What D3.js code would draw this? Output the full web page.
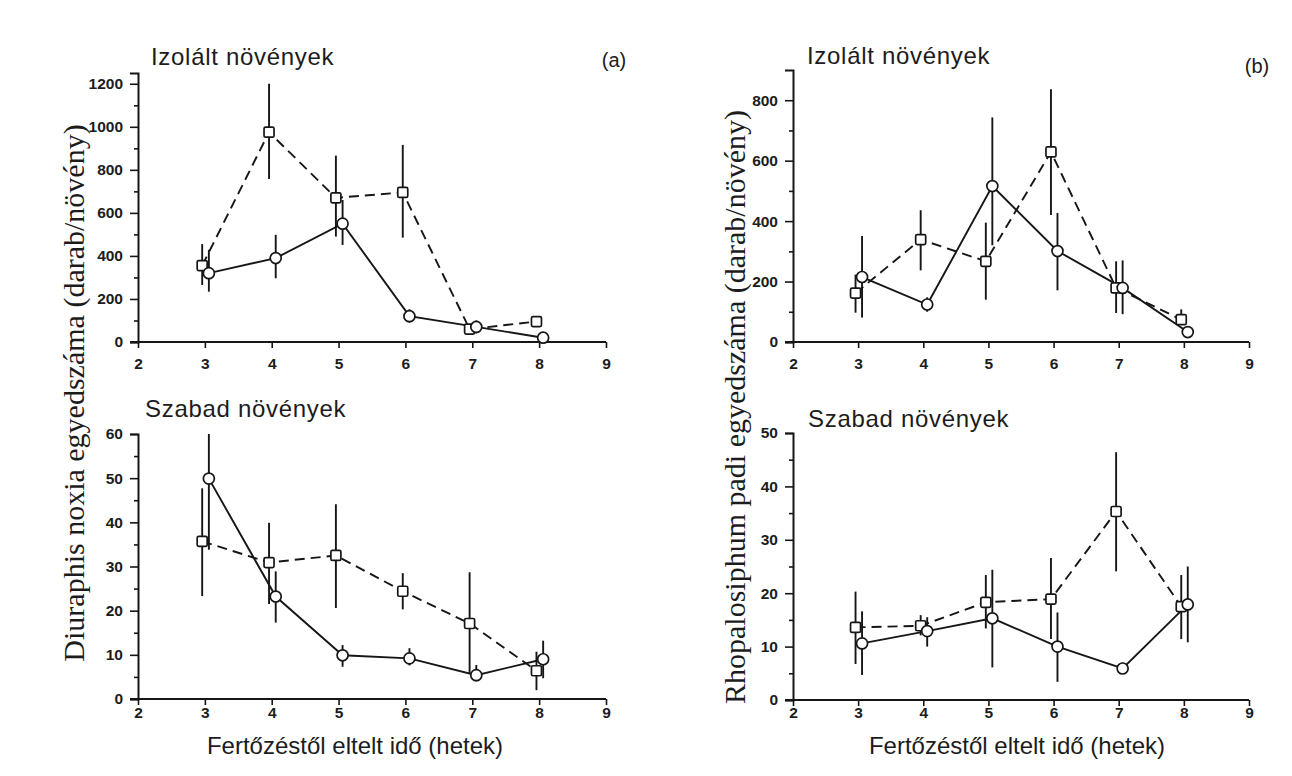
<!DOCTYPE html>
<html>
<head>
<meta charset="utf-8">
<script src="https://cdn.jsdelivr.net/npm/d3@7/dist/d3.min.js"></script>
<style>
  html, body { margin: 0; padding: 0; background: #fff; }
  svg { display: block; }
  .tick-label { font-family: "Liberation Sans", Arial, sans-serif; font-size: 15.5px; font-weight: bold; fill: #1c1c1c; }
  .title { font-family: "Liberation Sans", Arial, sans-serif; font-size: 24px; fill: #1c1c1c; }
  .ptitle { letter-spacing: 0.7px; }
  .ylab { font-family: "Liberation Serif", "Times New Roman", serif; font-size: 30px; fill: #1c1c1c; }
</style>
</head>
<body>
<svg id="chart" width="1292" height="776"></svg>
<script>
// Sampling weeks after infestation
const weeks = [3, 4, 5, 6, 7, 8];
const xTicks = [2, 3, 4, 5, 6, 7, 8, 9];

// Diuraphis noxia, isolated plants (dashed = squares, solid = circles)
const dnIsoDashed   = [355, 975, 670, 695, 60, 95];
const dnIsoDashedLo = [265, 758, 490, 485, 60, 95];
const dnIsoDashedHi = [455, 1200, 866, 916, 60, 95];
const dnIsoSolid    = [320, 390, 550, 120, 70, 20];
const dnIsoSolidLo  = [234, 296, 451, 90, 40, 20];
const dnIsoSolidHi  = [428, 498, 660, 152, 100, 20];

// Diuraphis noxia, free plants
const dnFreeDashed   = [35.7, 30.9, 32.5, 24.4, 17.1, 6.4];
const dnFreeDashedLo = [23.3, 21.5, 20.6, 20.3, 5.8, 2.0];
const dnFreeDashedHi = [47.7, 39.9, 44.1, 28.5, 28.7, 10.7];
const dnFreeSolid    = [49.9, 23.2, 9.9, 9.2, 5.4, 9.0];
const dnFreeSolidLo  = [33.8, 17.3, 7.3, 7.6, 4.0, 4.7];
const dnFreeSolidHi  = [60.0, 28.9, 12.2, 11.5, 7.7, 13.2];

// Rhopalosiphum padi, isolated plants
const rpIsoDashed   = [162, 339, 267, 629, 179, 74];
const rpIsoDashedLo = [97, 237, 140, 420, 96, 62];
const rpIsoDashedHi = [223, 436, 395, 836, 267, 108];
const rpIsoSolid    = [215, 124, 516, 301, 179, 33];
const rpIsoSolidLo  = [81, 100, 320, 171, 92, 25];
const rpIsoSolidHi  = [351, 148, 743, 427, 270, 45];

// Rhopalosiphum padi, free plants
const rpFreeDashed   = [13.6, 13.9, 18.3, 18.9, 35.3, 17.5];
const rpFreeDashedLo = [6.75, 12.1, 13.4, 11.4, 24.1, 11.4];
const rpFreeDashedHi = [20.3, 15.9, 23.4, 26.6, 46.4, 23.4];
const rpFreeSolid    = [10.6, 12.9, 15.3, 10.0, 5.9, 17.9];
const rpFreeSolidLo  = [4.7, 10.0, 6.1, 3.4, 5.0, 10.8];
const rpFreeSolidHi  = [16.6, 15.5, 24.4, 16.4, 7.0, 25.0];

// Y tick values per panel
const ticksDnIso  = [0, 200, 400, 600, 800, 1000, 1200];
const ticksDnFree = [0, 10, 20, 30, 40, 50, 60];
const ticksRpIso  = [0, 200, 400, 600, 800];
const ticksRpFree = [0, 10, 20, 30, 40, 50];

const svg = d3.select("#chart");
const ink = "#161616";

function zip(m, lo, hi) {
  return weeks.map((w, i) => ({ w, v: m[i], lo: lo[i], hi: hi[i] }));
}

function panel(cfg) {
  const g = svg.append("g");
  const x = d3.scaleLinear().domain([2, 9]).range([cfg.left, cfg.right]);
  const y = d3.scaleLinear().domain([0, cfg.ymax]).range([cfg.bottom, cfg.top]);

  // x axis
  const xa = g.append("g").attr("transform", `translate(0,${cfg.bottom})`)
    .call(d3.axisBottom(x).tickValues(xTicks).tickFormat(d3.format("d"))
      .tickSizeOuter(0).tickSize(6).tickPadding(cfg.xPad));
  // y axis (major + minor ticks)
  g.append("g").attr("transform", `translate(${cfg.left},0)`)
    .call(d3.axisLeft(y).tickValues(cfg.ticks).tickFormat(d3.format("d"))
      .tickSizeOuter(0).tickSize(8).tickPadding(7));
  const minor = d3.range(cfg.minorStep, cfg.ymaxTick, cfg.minorStep * 2);
  g.append("g").attr("transform", `translate(${cfg.left},0)`)
    .call(d3.axisLeft(y).tickValues(minor).tickFormat("").tickSizeOuter(0).tickSize(4))
    .select(".domain").remove();
  g.selectAll(".domain").attr("stroke", ink).attr("stroke-width", 2);
  g.selectAll(".tick line").attr("stroke", ink).attr("stroke-width", 1.6);
  g.selectAll(".tick text").attr("class", "tick-label");
  xa.select(".domain").attr("d", `M${cfg.left - 8},0H${cfg.right}`);

  const series = [
    { data: zip(...cfg.dashed), dx: -0.04, dash: "10,6", shape: "square" },
    { data: zip(...cfg.solid), dx: 0.06, dash: null, shape: "circle" }
  ];

  series.forEach(s => {
    const line = d3.line().x(d => x(d.w + s.dx)).y(d => y(d.v));
    g.append("path").datum(s.data)
      .attr("d", line).attr("fill", "none").attr("stroke", ink)
      .attr("stroke-width", 1.9).attr("stroke-dasharray", s.dash);
    g.selectAll(null).data(s.data.filter(d => d.hi > d.lo)).enter().append("line")
      .attr("x1", d => x(d.w + s.dx)).attr("x2", d => x(d.w + s.dx))
      .attr("y1", d => y(d.lo)).attr("y2", d => y(d.hi))
      .attr("stroke", ink).attr("stroke-width", 1.9);
  });
  series.forEach(s => {
    if (s.shape === "square") {
      g.selectAll(null).data(s.data).enter().append("rect")
        .attr("x", d => x(d.w + s.dx) - 5).attr("y", d => y(d.v) - 5)
        .attr("width", 10).attr("height", 10).attr("rx", 1.5)
        .attr("fill", "#fff").attr("stroke", ink).attr("stroke-width", 1.7);
    } else {
      g.selectAll(null).data(s.data).enter().append("circle")
        .attr("cx", d => x(d.w + s.dx)).attr("cy", d => y(d.v)).attr("r", 5.5)
        .attr("fill", "#fff").attr("stroke", ink).attr("stroke-width", 1.7);
    }
  });

  g.append("text").attr("class", "title ptitle").attr("x", cfg.titleX).attr("y", cfg.titleY).text(cfg.title);
}

panel({ left: 138, right: 606, top: 73, bottom: 342, ymax: 1250, ymaxTick: 1200, minorStep: 100, xPad: 10,
  ticks: ticksDnIso, dashed: [dnIsoDashed, dnIsoDashedLo, dnIsoDashedHi], solid: [dnIsoSolid, dnIsoSolidLo, dnIsoSolidHi],
  title: "Izolált növények", titleX: 151, titleY: 65 });
panel({ left: 138, right: 606, top: 434, bottom: 699, ymax: 60, ymaxTick: 60, minorStep: 5, xPad: 2,
  ticks: ticksDnFree, dashed: [dnFreeDashed, dnFreeDashedLo, dnFreeDashedHi], solid: [dnFreeSolid, dnFreeSolidLo, dnFreeSolidHi],
  title: "Szabad növények", titleX: 145, titleY: 417 });
panel({ left: 793, right: 1249, top: 70, bottom: 342, ymax: 900, ymaxTick: 900, minorStep: 100, xPad: 10,
  ticks: ticksRpIso, dashed: [rpIsoDashed, rpIsoDashedLo, rpIsoDashedHi], solid: [rpIsoSolid, rpIsoSolidLo, rpIsoSolidHi],
  title: "Izolált növények", titleX: 807, titleY: 64 });
panel({ left: 793, right: 1249, top: 433, bottom: 700, ymax: 50, ymaxTick: 50, minorStep: 5, xPad: 1,
  ticks: ticksRpFree, dashed: [rpFreeDashed, rpFreeDashedLo, rpFreeDashedHi], solid: [rpFreeSolid, rpFreeSolidLo, rpFreeSolidHi],
  title: "Szabad növények", titleX: 808, titleY: 427 });

// Panel letters
svg.append("text").attr("class", "title").attr("x", 614).attr("y", 67).attr("text-anchor", "middle")
  .style("font-size", "20px").text("(a)");
svg.append("text").attr("class", "title").attr("x", 1257).attr("y", 73).attr("text-anchor", "middle")
  .style("font-size", "20px").text("(b)");

// X axis titles
svg.append("text").attr("class", "title").attr("x", 355).attr("y", 754).attr("text-anchor", "middle")
  .text("Fertőzéstől eltelt idő (hetek)");
svg.append("text").attr("class", "title").attr("x", 1017).attr("y", 754).attr("text-anchor", "middle")
  .text("Fertőzéstől eltelt idő (hetek)");

// Y axis titles
svg.append("text").attr("class", "ylab").attr("text-anchor", "middle")
  .attr("transform", "translate(84,393) rotate(-90)").text("Diuraphis noxia egyedszáma (darab/növény)");
svg.append("text").attr("class", "ylab").attr("text-anchor", "middle")
  .attr("transform", "translate(745,407) rotate(-90)").text("Rhopalosiphum padi egyedszáma (darab/növény)");
</script>
</body>
</html>
